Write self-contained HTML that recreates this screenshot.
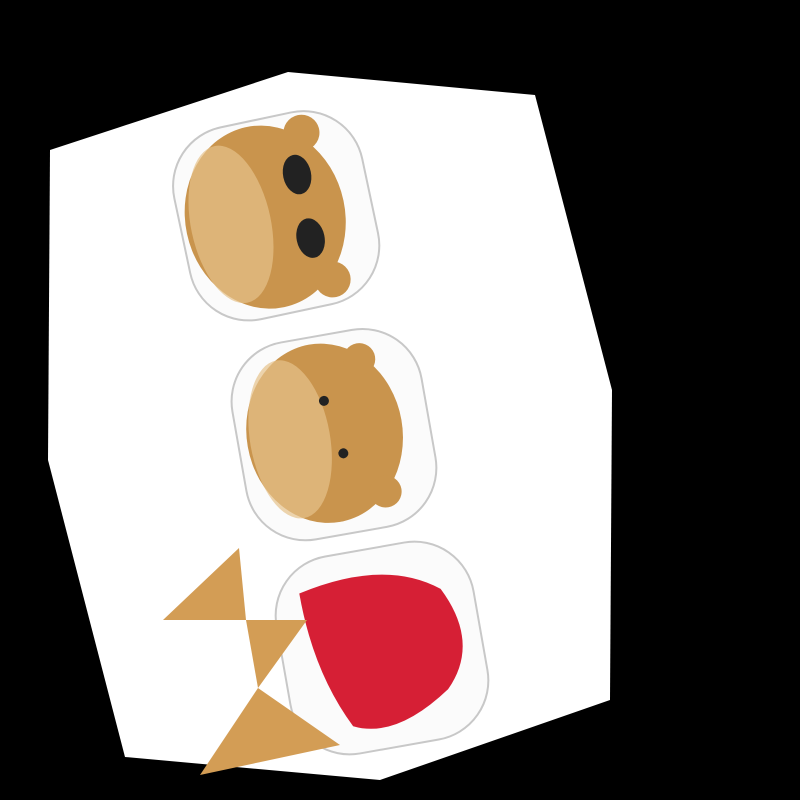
<!DOCTYPE html>
<html><head><meta charset="utf-8"><style>html,body{margin:0;padding:0;background:#000}svg{display:block}</style></head>
<body>
<svg width="800" height="800" viewBox="0 0 800 800">
<rect width="800" height="800" fill="#000"/>
<polygon points="50,150 288,72 535,95 612,390 610,700 380,780 125,757 48,460" fill="#fff"/>
<g transform="rotate(-12 275 215)">
<rect x="180" y="118" width="192" height="196" rx="60" fill="#fbfbfb" stroke="#c8c8c8" stroke-width="2"/>
<ellipse cx="265" cy="215" rx="80" ry="92" fill="#c9944d"/>
<ellipse cx="230" cy="215" rx="40" ry="80" fill="#e6c28a" opacity="0.7"/>
<circle cx="318" cy="140" r="18" fill="#c9944d"/>
<circle cx="318" cy="290" r="18" fill="#c9944d"/>
<ellipse cx="305" cy="180" rx="14" ry="20" fill="#222"/>
<ellipse cx="305" cy="245" rx="14" ry="20" fill="#222"/>
</g>
<g transform="rotate(-10 332 435)">
<rect x="238" y="335" width="192" height="200" rx="60" fill="#fbfbfb" stroke="#c8c8c8" stroke-width="2"/>
<ellipse cx="325" cy="432" rx="78" ry="90" fill="#c9944d"/>
<ellipse cx="290" cy="432" rx="40" ry="80" fill="#e6c28a" opacity="0.7"/>
<circle cx="372" cy="365" r="16" fill="#c9944d"/>
<circle cx="375" cy="500" r="16" fill="#c9944d"/>
<circle cx="330" cy="400" r="5" fill="#222"/>
<circle cx="340" cy="455" r="5" fill="#222"/>
</g>
<g transform="rotate(-10 382 648)">
<rect x="282" y="548" width="200" height="200" rx="60" fill="#fbfbfb" stroke="#c8c8c8" stroke-width="2"/>
<path d="M310,580 Q400,560 450,600 Q480,660 440,700 Q380,740 340,720 Q310,660 310,580 Z" fill="#d61f35"/>
</g>
<g fill="#d39d55">
<polygon points="239,548 163,620 246,620"/>
<polygon points="246,620 307,620 258,688"/>
<polygon points="258,688 340,745 200,775"/>
</g>
</svg>
</body></html>
